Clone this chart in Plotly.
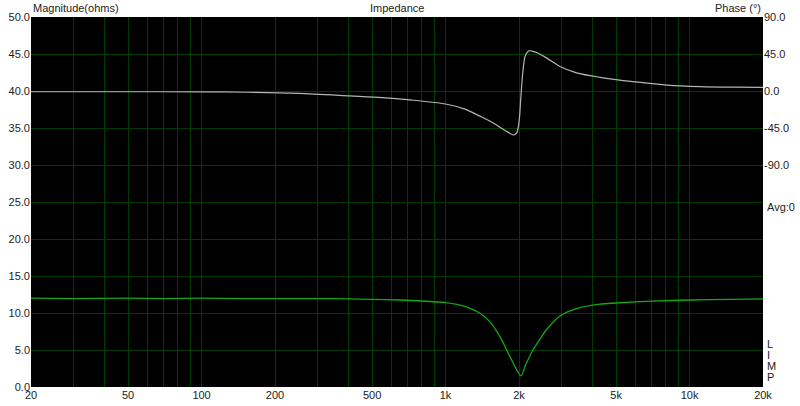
import plotly.graph_objects as go

# ---- data ----
freq_mag = [20, 30, 50, 70, 100, 150, 200, 300, 400, 500, 650, 800, 1000, 1200, 1384,
            1521, 1671, 1781, 1896, 1980, 2037, 2130, 2290, 2440, 2600, 2944, 3440,
            4295, 5000, 7000, 10000, 15000, 20000]
magnitude = [12.0, 11.95, 12.0, 11.95, 12.0, 11.95, 11.95, 11.95, 11.9, 11.85, 11.76,
             11.62, 11.4, 10.9, 9.96, 8.8, 6.8, 5.0, 3.2, 2.0, 1.5, 3.0, 5.1, 6.5, 7.8,
             9.6, 10.6, 11.2, 11.35, 11.6, 11.76, 11.85, 11.9]

freq_phase = [20, 50, 100, 153, 250, 405, 550, 715, 1000, 1200, 1384, 1530, 1671, 1800,
              1895, 1958, 2005, 2032, 2071, 2116, 2160, 2204, 2260, 2362, 2600, 2944,
              3440, 4295, 5866, 8090, 11000, 15000, 20000]
phase_deg = [-0.9, -0.9, -1.0, -1.5, -3.0, -6.0, -8.0, -10.8, -15.8, -22.0, -30.6, -37.0,
             -44.0, -50.0, -53.5, -51.0, -35.0, -11.0, 21.5, 41.6, 47.0, 49.0, 48.5, 46.8,
             40.0, 29.7, 22.0, 16.6, 11.3, 7.2, 5.4, 4.7, 4.5]

x_tick_vals = [20, 50, 100, 200, 500, 1000, 2000, 5000, 10000, 20000]
x_tick_text = ["20", "50", "100", "200", "500", "1k", "2k", "5k", "10k", "20k"]
x_grid_vals = [20, 30, 40, 50, 60, 70, 80, 90, 100, 200, 300, 400, 500, 600, 700, 800, 900,
               1000, 2000, 3000, 4000, 5000, 6000, 7000, 8000, 9000, 10000, 20000]
y_tick_vals = [0, 5, 10, 15, 20, 25, 30, 35, 40, 45, 50]
phase_tick_vals = [-90, -45, 0, 45, 90]
phase_tick_text = ["-90.0", "-45.0", "0.0", "45.0", "90.0"]

GRID = "#003c00"
FONT = dict(family="Liberation Sans, Arial, sans-serif", size=11, color="#222222")

fig = go.Figure()
fig.add_trace(go.Scatter(x=freq_mag, y=magnitude, mode="lines",
                         line=dict(color="#14a814", width=1.3, shape="spline", smoothing=0.8),
                         showlegend=False, hoverinfo="skip"))
fig.add_trace(go.Scatter(x=freq_phase, y=phase_deg, mode="lines", yaxis="y2",
                         line=dict(color="#b4b4b4", width=1.2, shape="spline", smoothing=0.8),
                         showlegend=False, hoverinfo="skip"))

fig.update_layout(
    width=800, height=406,
    margin=dict(l=31, r=37, t=17, b=19, autoexpand=False),
    paper_bgcolor="white", plot_bgcolor="black",
    font=FONT,
    xaxis=dict(type="log", range=[1.30103, 4.30103], tickmode="array",
               tickvals=x_tick_vals, ticktext=x_tick_text, showgrid=False,
               zeroline=False, ticks="", ticklen=0, tickfont=FONT, automargin=False,
               minor=dict(tickmode="array", tickvals=x_grid_vals, showgrid=True,
                          gridcolor=GRID, gridwidth=1, ticks="")),
    yaxis=dict(range=[0, 50], tickmode="array", tickvals=y_tick_vals,
               ticktext=[f"{v:.1f}" for v in y_tick_vals], showgrid=True,
               gridcolor=GRID, gridwidth=1, zeroline=False, ticks="", tickfont=FONT,
               automargin=False),
    yaxis2=dict(range=[-360, 90], overlaying="y", side="right", tickmode="array",
                tickvals=phase_tick_vals, ticktext=phase_tick_text, showgrid=False,
                zeroline=False, ticks="", tickfont=FONT, automargin=False),
)

ann = [
    dict(text="Impedance", x=0.5, y=1, xref="paper", yref="paper", xanchor="center",
         yanchor="bottom", yshift=1, showarrow=False),
    dict(text="Magnitude(ohms)", x=0, y=1, xref="paper", yref="paper", xanchor="left",
         yanchor="bottom", yshift=1, showarrow=False),
    dict(text="Phase (°)", x=1, y=1, xref="paper", yref="paper", xanchor="right",
         yanchor="bottom", yshift=1, showarrow=False),
    dict(text="Avg:0", x=1, y=24.3, xref="paper", yref="y", xanchor="left",
         xshift=2, showarrow=False),
]
for i, ch in enumerate("LIMP"):
    ann.append(dict(text=ch, x=1, y=5.8 - i * 1.5, xref="paper", yref="y",
                    xanchor="left", xshift=2, showarrow=False))
fig.update_layout(annotations=ann)

fig.write_html("out.html", config={"displayModeBar": False, "staticPlot": True},
               post_script="document.body.style.margin='0';document.body.style.overflow='hidden';")
